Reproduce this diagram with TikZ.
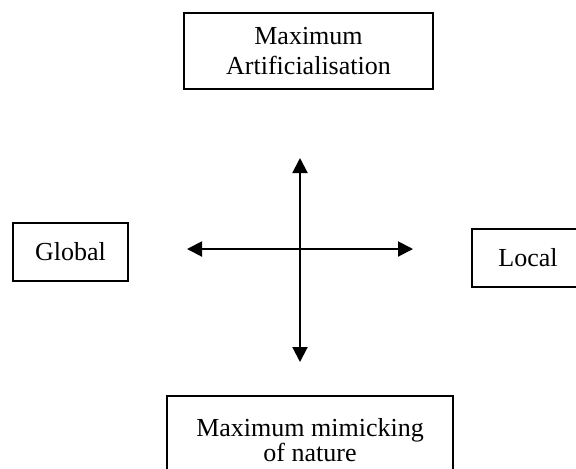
\documentclass[tikz,border=0pt]{standalone}
\usepackage{fontspec}
\setmainfont{Liberation Serif}
\usepackage{tikz}
\usetikzlibrary{arrows.meta,positioning}
\tikzset{pole box/.style={draw=black, line width=1pt, align=center, inner sep=0pt, font=\fontsize{13}{15}\selectfont}}
\tikzset{axis arrow/.style={<->, line width=1pt}}

\begin{document}
\begin{tikzpicture}[x=0.5pt,y=-0.5pt,>={Triangle[length=7.5pt,width=7.5pt]}]
	\useasboundingbox (0,0) rectangle (576,468);
	\node[pole box, minimum width=124.5pt, minimum height=38pt] at (308.5,51) (max_art) {Maximum\\Artificialisation};
	\node[pole box, minimum width=57.5pt, minimum height=29pt] at (70.5,252) (global) {Global};
	\node[pole box, minimum width=56pt, minimum height=29pt] at (528,258) (local) {Local};
	\node[pole box, minimum width=143pt, minimum height=45pt, font=\fontsize{13}{12.5}\selectfont] at (310,440.5) (max_nat) {Maximum mimicking\\of nature};
	\coordinate (ax_up) at (300,158);
	\coordinate (ax_down) at (300,362);
	\coordinate (ax_left) at (187,249);
	\coordinate (ax_right) at (413,249);
	\draw[axis arrow] (ax_down) -- (ax_up);
	\draw[axis arrow] (ax_left) -- (ax_right);
\end{tikzpicture}
\end{document}
